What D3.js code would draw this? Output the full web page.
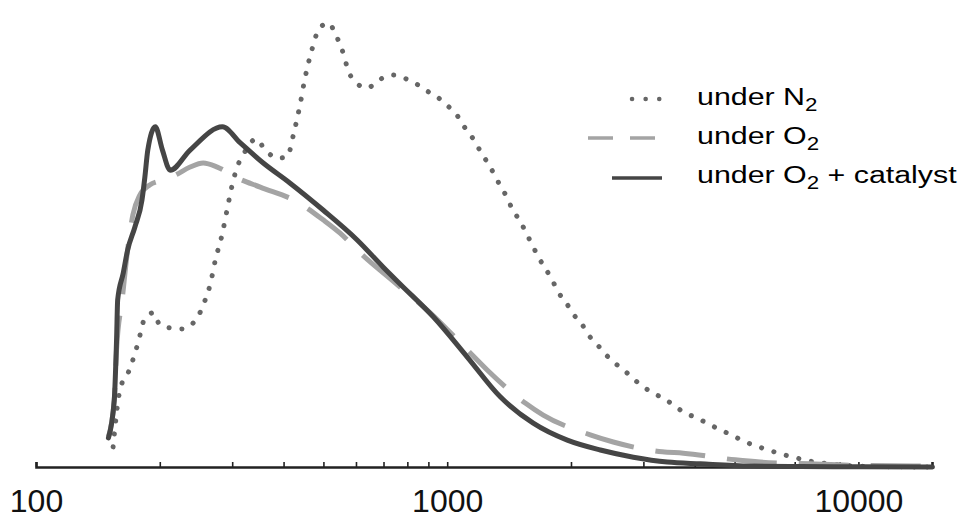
<!DOCTYPE html>
<html>
<head>
<meta charset="utf-8">
<script src="https://cdn.jsdelivr.net/npm/d3@7"></script>
<style>
  html, body { margin: 0; padding: 0; background: #fff; }
  svg { display: block; font-family: "Liberation Sans", Arial, sans-serif; }
</style>
</head>
<body>
<svg id="chart" width="971" height="518"></svg>
<script>
// ---- data (x: log axis value, y: relative intensity 0..100) ----
const n2X = [154,160,169,177,184,193,200,212,227,241,251,258,265,273,284,292,302,308,322,343,361,388,408,424,439,451,467,491,516,534,552,578,601,639,683,735,786,841,894,951,1011,1064,1106,1157,1203,1251,1301,1346,1400,1439,1505,1557,1610,1665,1731,1801,1863,1948,2026,2131,2216,2331,2451,2592,2757,2915,3083,3298,3527,3751,3990,4292,4564,4909,5251,5647,6039,6496,6947,7641,8549,10110,15140];
const n2Y = [4.5,17.2,21.9,27.7,33.3,34.5,31.8,31.1,30.9,32.2,34.7,37.4,40.7,46.3,52.3,57.9,64.2,66.9,70.5,73.4,70.9,69.1,69.4,74.9,81.2,87.0,92.8,98.4,99.3,96.9,94.0,88.1,85.9,84.8,86.6,87.7,87.0,85.7,84.1,82.6,80.5,78.3,75.8,73.4,70.7,68.2,65.5,62.9,60.2,57.7,55.0,52.3,49.7,47.0,44.5,41.8,39.1,36.7,34.2,31.8,29.3,27.1,24.8,22.8,20.8,18.8,17.2,15.7,14.1,12.3,11.2,9.8,8.5,7.2,5.8,4.7,3.8,2.9,2.2,1.3,0.7,0.2,0];

const o2X = [150,155,157,162,167,172,179,189,203,218,237,255,276,308,351,432,499,549,614,747,909,1138,1251,1548,1712,2228,2534,3336,3751,5020,5777,7641,9560,15140];
const o2Y = [6.7,15.0,26.2,37.4,48.5,56.4,60.9,63.1,64.2,65.3,67.1,68.0,67.1,64.7,62.6,59.3,55.3,52.3,47.9,41.2,34.5,25.5,21.7,14.3,11.6,7.2,5.6,3.4,3.1,1.6,1.1,0.7,0.4,0.2];

const catX = [150,155,157,158,163,167,174,181,184,187,195,203,212,237,284,314,357,415,499,604,699,769,925,1119,1346,1619,1959,2357,2836,3430,4127,5460,7226,10110,15140];
const catY = [6.5,15.0,28.4,37.4,43.4,48.5,53.7,59.7,64.9,70.9,76.1,70.9,66.4,70.9,76.1,72.5,68.0,63.5,57.5,50.8,44.7,40.9,33.6,24.6,15.7,9.8,6.0,3.8,2.2,1.1,0.7,0.2,0.1,0.05,0];

const majorTicks = [100, 1000, 10000];
const minorTicks = [100,200,300,400,500,600,700,800,900,1000,2000,3000,4000,5000,6000,7000,8000,9000,10000];
const tickLabels = ["100", "1000", "10000"];

const legendLabels = [
  ["under N", "2", ""],
  ["under O", "2", ""],
  ["under O", "2", " + catalyst"]
];

// ---- scales ----
const svg = d3.select("#chart");
const x = d3.scaleLog().domain([100, 15100]).range([36, 932]);
const y = d3.scaleLinear().domain([0, 100]).range([467, 20]);

const line = d3.line()
  .x(d => x(d[0]))
  .y(d => y(d[1]))
  .curve(d3.curveMonotoneX);

const zip = (a, b) => a.map((v, i) => [v, b[i]]);

const styles = [
  { stroke: "#666", width: 5, dash: "0.1 12.8", cap: "round" },
  { stroke: "#a4a4a4", width: 5, dash: "50 22", cap: "butt" },
  { stroke: "#454545", width: 5, dash: null, cap: "round" }
];

// ---- axis ----
const axisY = y(0);
const gTicks = svg.append("g").attr("transform", `translate(0,${axisY})`)
  .call(d3.axisTop(x).tickValues(minorTicks).tickSize(5).tickFormat(""));
gTicks.select(".domain").attr("stroke", "#222").attr("stroke-width", 2.6);
gTicks.selectAll(".tick line").attr("stroke", "#222").attr("stroke-width", 1.6);

const gLabels = svg.append("g").attr("transform", `translate(0,${axisY})`)
  .call(d3.axisBottom(x).tickValues(majorTicks).tickSize(0).tickPadding(22)
    .tickFormat((d, i) => tickLabels[i]));
gLabels.select(".domain").remove();
gLabels.selectAll(".tick text")
  .attr("font-family", "Liberation Sans, Arial, sans-serif")
  .attr("font-size", 32)
  .attr("fill", "#111");

// ---- series ----
const series = [zip(n2X, n2Y), zip(o2X, o2Y), zip(catX, catY)];
series.forEach((s, i) => {
  const st = styles[i];
  svg.append("path")
    .datum(s)
    .attr("d", line)
    .attr("fill", "none")
    .attr("stroke", st.stroke)
    .attr("stroke-width", st.width)
    .attr("stroke-linecap", st.cap)
    .attr("stroke-linejoin", "round")
    .attr("stroke-dasharray", st.dash);
});

// ---- legend ----
const legY = [105, 144, 183];
const lg = svg.append("g");
lg.append("path").attr("d", `M632,${legY[0]-6}L662,${legY[0]-6}`)
  .attr("stroke", styles[0].stroke).attr("stroke-width", 4.5)
  .attr("stroke-linecap", "round").attr("stroke-dasharray", "0.1 13.5");
lg.append("path").attr("d", `M588,${legY[1]-6}L662,${legY[1]-6}`)
  .attr("stroke", styles[1].stroke).attr("stroke-width", 3.5)
  .attr("stroke-dasharray", "25 17");
lg.append("path").attr("d", `M612,${legY[2]-5}L662,${legY[2]-5}`)
  .attr("stroke", styles[2].stroke).attr("stroke-width", 3.5);

legendLabels.forEach((parts, i) => {
  const t = lg.append("text")
    .attr("transform", `translate(697,${legY[i]}) scale(1.24,1)`)
    .attr("font-size", 24.5)
    .attr("fill", "#000");
  t.append("tspan").text(parts[0]);
  t.append("tspan").attr("dy", 6).attr("font-size", 18).text(parts[1]);
  if (parts[2]) t.append("tspan").attr("dy", -6).text(parts[2]);
});
</script>
</body>
</html>
